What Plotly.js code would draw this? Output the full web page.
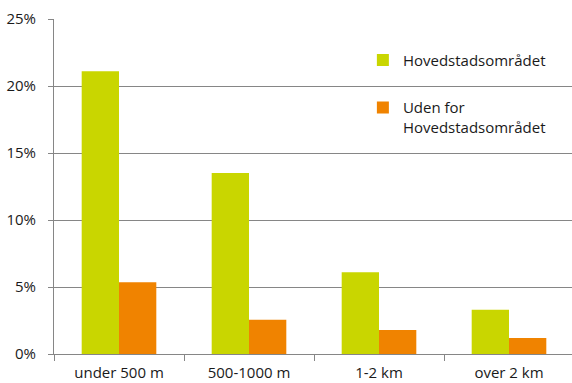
<!DOCTYPE html>
<html><head><meta charset="utf-8">
<script src="https://cdn.plot.ly/plotly-3.0.1.min.js"></script>
<style>html,body{margin:0;padding:0;overflow:hidden;background:#fff}</style>
</head><body><div id="chart"></div>
<script>
const categories = ["under 500 m", "500-1000 m", "1-2 km", "over 2 km"];
const hovedstad = [21.1, 13.5, 6.1, 3.3];
const udenfor = [5.35, 2.55, 1.8, 1.2];
const seriesNames = ["Hovedstadsområdet", "Uden for<br>Hovedstadsområdet"];
const yTicks = [0, 5, 10, 15, 20, 25];
const yTickLabels = ["0%", "5%", "10%", "15%", "20%", "25%"];

const font = {family: "'Open Sans', sans-serif", size: 15, color: "#1a1a1a"};
const data = [
  {type: "bar", x: categories, y: hovedstad, name: seriesNames[0], marker: {color: "#C9D600"}, legendgroup: "a"},
  {type: "bar", x: categories, y: udenfor, name: seriesNames[1], marker: {color: "#F08300"}, legendgroup: "b"}
];
const layout = {
  width: 574, height: 383,
  margin: {l: 54, r: 0, t: 19, b: 29, pad: 0},
  paper_bgcolor: "#fff", plot_bgcolor: "#fff",
  font: font,
  barmode: "group", bargap: 0.426, bargroupgap: 0,
  showlegend: true,
  legend: {x: 0.594, xanchor: "left", y: 0.926, yanchor: "top", bgcolor: "rgba(0,0,0,0)",
           traceorder: "grouped", tracegroupgap: 25, valign: "top", font: font, itemwidth: 30},
  xaxis: {type: "category", showline: true, linecolor: "#868686", linewidth: 1,
          ticks: "outside", tickson: "boundaries", ticklen: 6, tickcolor: "#868686",
          ticklabelstandoff: 5,
          showgrid: false, automargin: false, tickfont: font},
  yaxis: {range: [0, 25], tickvals: yTicks, ticktext: yTickLabels, showline: true, linecolor: "#868686",
          ticks: "outside", ticklen: 5, tickcolor: "#868686", showgrid: true, gridcolor: "#868686",
          ticklabelstandoff: 9,
          gridwidth: 1, zeroline: false, automargin: false, tickfont: font}
};
Plotly.newPlot("chart", data, layout, {displayModeBar: false, staticPlot: true});
</script></body></html>
